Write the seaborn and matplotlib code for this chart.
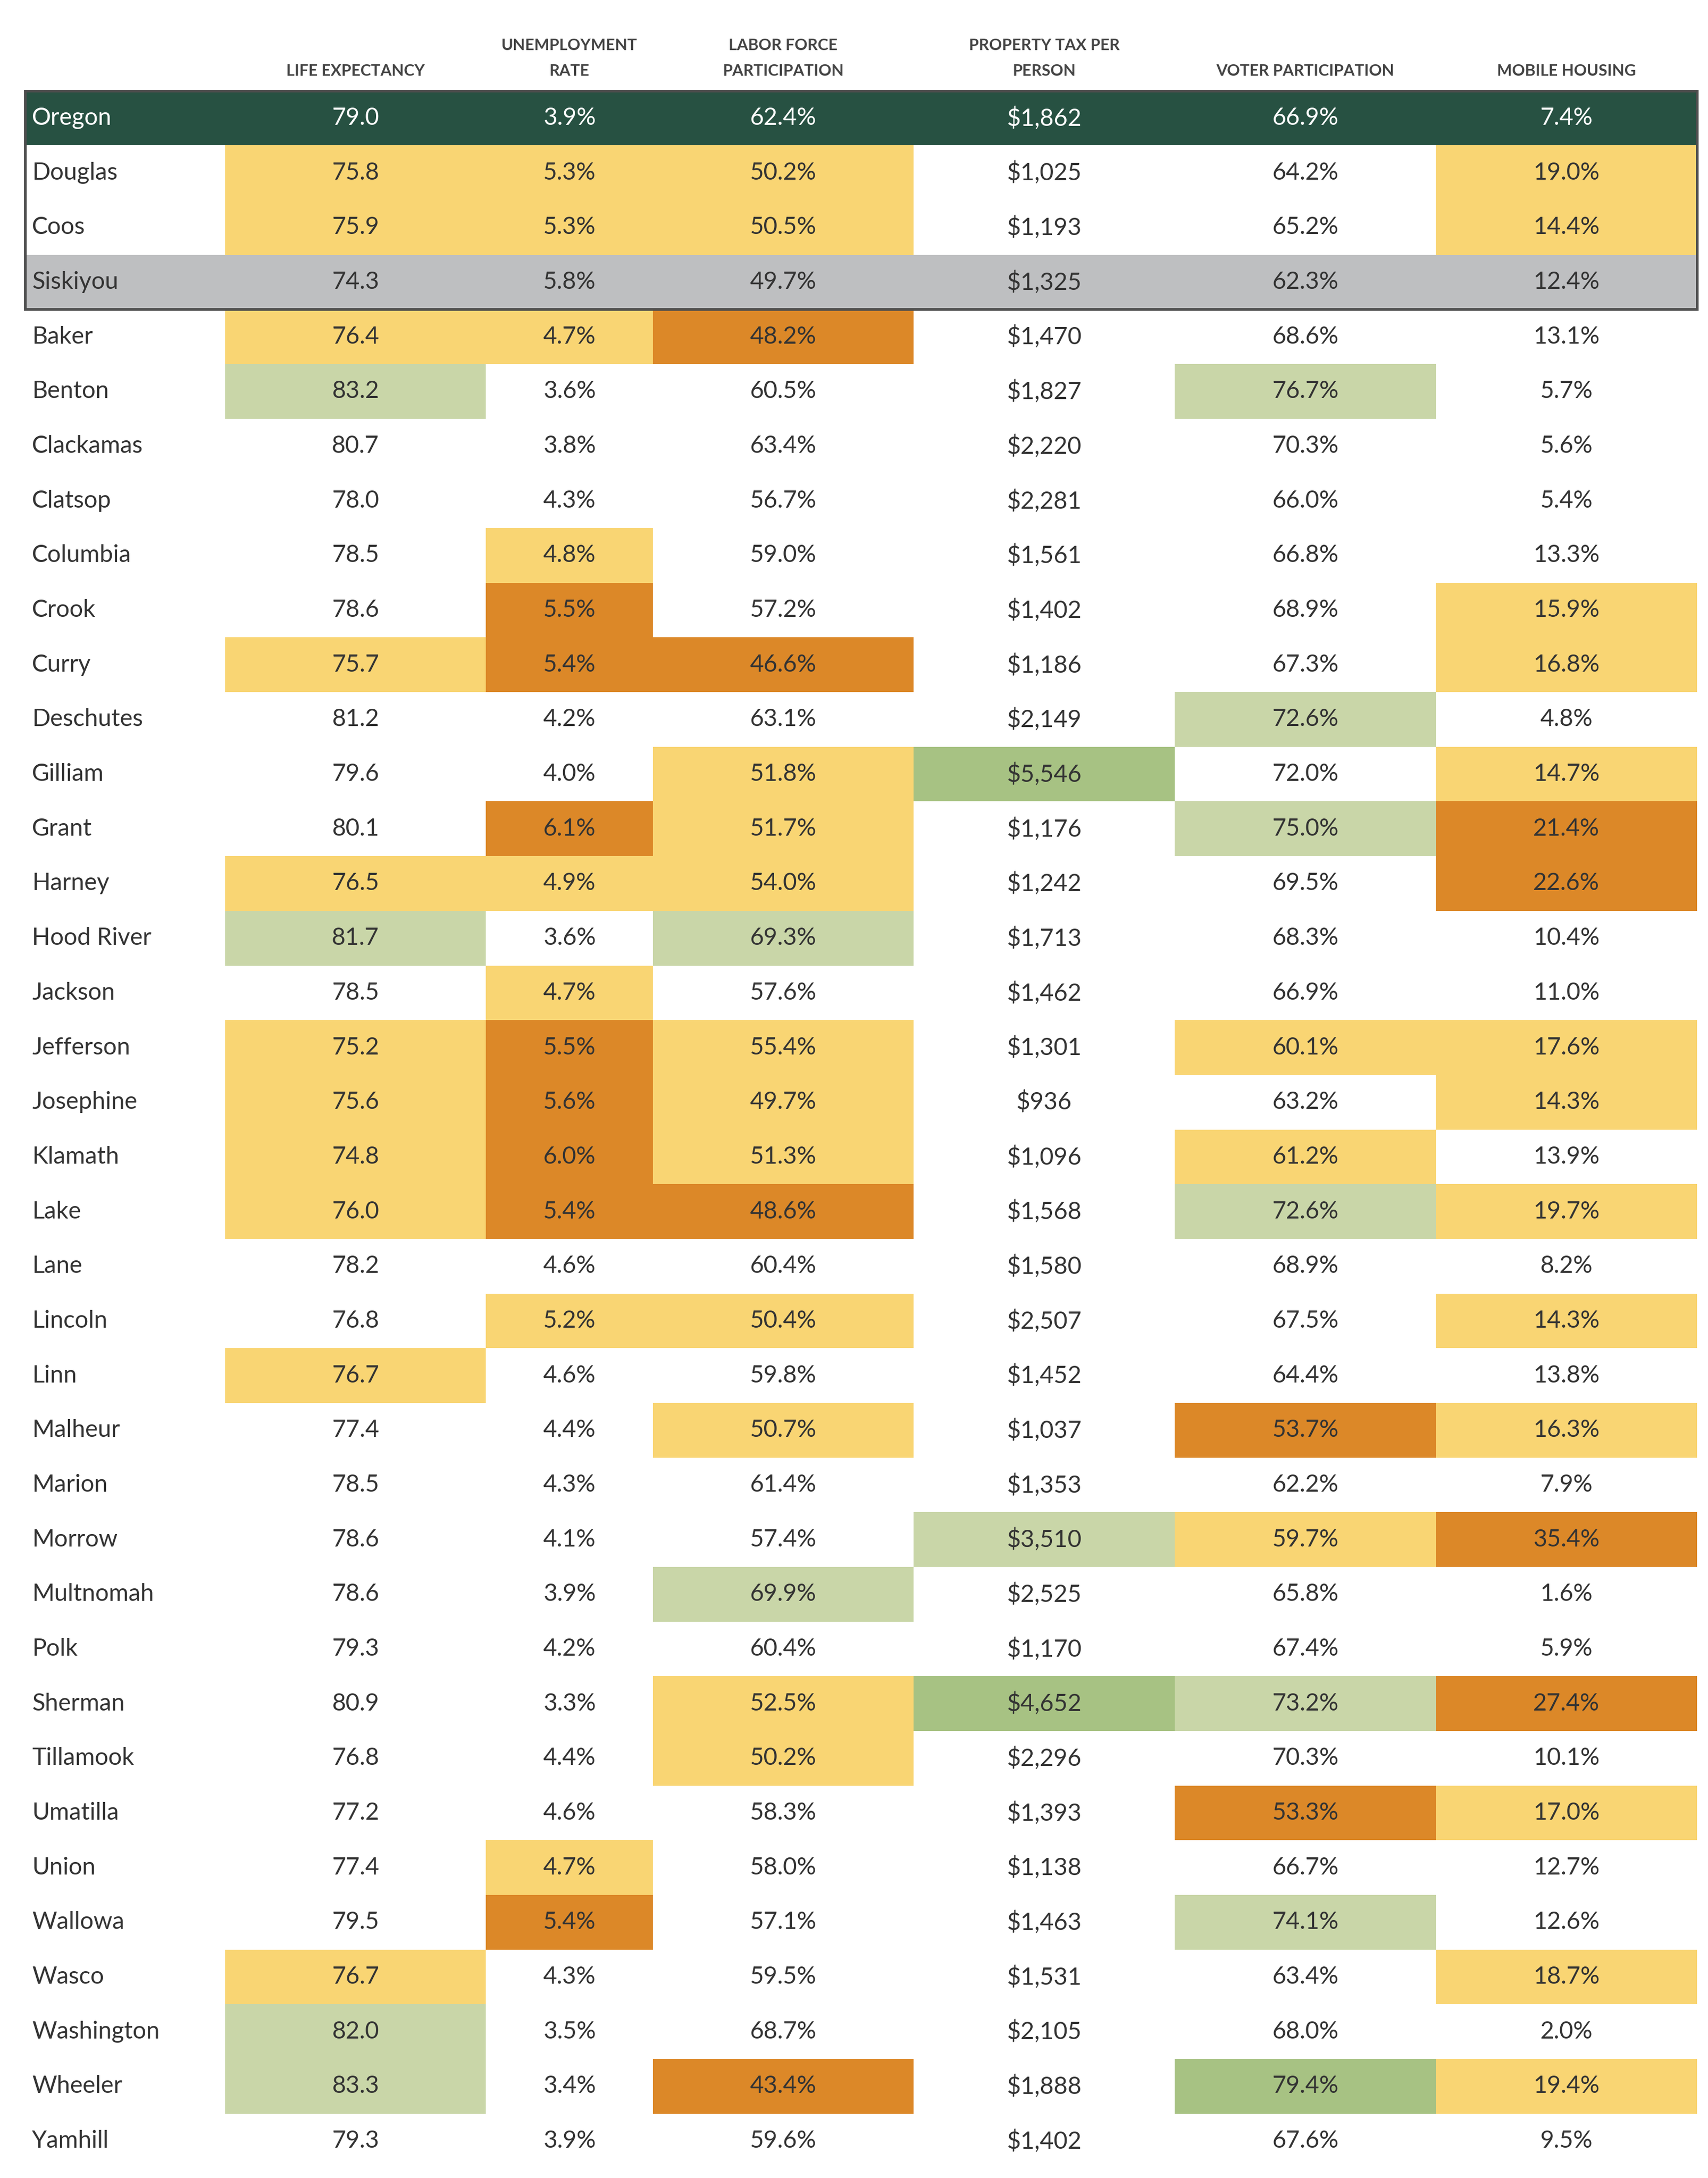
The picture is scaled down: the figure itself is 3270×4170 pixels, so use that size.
import matplotlib
matplotlib.use("Agg")
import matplotlib.pyplot as plt
import seaborn as sns
import numpy as np
from matplotlib.colors import ListedColormap
from matplotlib.patches import Rectangle

sns.set_theme(style="white")
plt.rcParams['font.family'] = ['Lato', 'DejaVu Sans']

headers = ["LIFE EXPECTANCY", "UNEMPLOYMENT\nRATE", "LABOR FORCE\nPARTICIPATION",
           "PROPERTY TAX PER\nPERSON", "VOTER PARTICIPATION", "MOBILE HOUSING"]
counties = ["Oregon", "Douglas", "Coos", "Siskiyou", "Baker", "Benton", "Clackamas", "Clatsop",
            "Columbia", "Crook", "Curry", "Deschutes", "Gilliam", "Grant", "Harney", "Hood River",
            "Jackson", "Jefferson", "Josephine", "Klamath", "Lake", "Lane", "Lincoln", "Linn",
            "Malheur", "Marion", "Morrow", "Multnomah", "Polk", "Sherman", "Tillamook", "Umatilla",
            "Union", "Wallowa", "Wasco", "Washington", "Wheeler", "Yamhill"]
life = [79.0, 75.8, 75.9, 74.3, 76.4, 83.2, 80.7, 78.0, 78.5, 78.6, 75.7, 81.2, 79.6, 80.1, 76.5, 81.7,
        78.5, 75.2, 75.6, 74.8, 76.0, 78.2, 76.8, 76.7, 77.4, 78.5, 78.6, 78.6, 79.3, 80.9, 76.8, 77.2,
        77.4, 79.5, 76.7, 82.0, 83.3, 79.3]
unemp = [3.9, 5.3, 5.3, 5.8, 4.7, 3.6, 3.8, 4.3, 4.8, 5.5, 5.4, 4.2, 4.0, 6.1, 4.9, 3.6,
         4.7, 5.5, 5.6, 6.0, 5.4, 4.6, 5.2, 4.6, 4.4, 4.3, 4.1, 3.9, 4.2, 3.3, 4.4, 4.6,
         4.7, 5.4, 4.3, 3.5, 3.4, 3.9]
labor = [62.4, 50.2, 50.5, 49.7, 48.2, 60.5, 63.4, 56.7, 59.0, 57.2, 46.6, 63.1, 51.8, 51.7, 54.0, 69.3,
         57.6, 55.4, 49.7, 51.3, 48.6, 60.4, 50.4, 59.8, 50.7, 61.4, 57.4, 69.9, 60.4, 52.5, 50.2, 58.3,
         58.0, 57.1, 59.5, 68.7, 43.4, 59.6]
proptax = [1862, 1025, 1193, 1325, 1470, 1827, 2220, 2281, 1561, 1402, 1186, 2149, 5546, 1176, 1242, 1713,
           1462, 1301, 936, 1096, 1568, 1580, 2507, 1452, 1037, 1353, 3510, 2525, 1170, 4652, 2296, 1393,
           1138, 1463, 1531, 2105, 1888, 1402]
voter = [66.9, 64.2, 65.2, 62.3, 68.6, 76.7, 70.3, 66.0, 66.8, 68.9, 67.3, 72.6, 72.0, 75.0, 69.5, 68.3,
         66.9, 60.1, 63.2, 61.2, 72.6, 68.9, 67.5, 64.4, 53.7, 62.2, 59.7, 65.8, 67.4, 73.2, 70.3, 53.3,
         66.7, 74.1, 63.4, 68.0, 79.4, 67.6]
mobile = [7.4, 19.0, 14.4, 12.4, 13.1, 5.7, 5.6, 5.4, 13.3, 15.9, 16.8, 4.8, 14.7, 21.4, 22.6, 10.4,
          11.0, 17.6, 14.3, 13.9, 19.7, 8.2, 14.3, 13.8, 16.3, 7.9, 35.4, 1.6, 5.9, 27.4, 10.1, 17.0,
          12.7, 12.6, 18.7, 2.0, 19.4, 9.5]
# highlight class: 0 none, 1 yellow, 2 orange, 3 light green, 4 green (Oregon/Siskiyou rows special)
highlight = [
    [5,5,5,5,5,5],[1,1,1,0,0,1],[1,1,1,0,0,1],[6,6,6,6,6,6],
    [1,1,2,0,0,0],[3,0,0,0,3,0],[0,0,0,0,0,0],[0,0,0,0,0,0],[0,1,0,0,0,0],[0,2,0,0,0,1],
    [1,2,2,0,0,1],[0,0,0,0,3,0],[0,0,1,4,0,1],[0,2,1,0,3,2],[1,1,1,0,0,2],[3,0,3,0,0,0],
    [0,1,0,0,0,0],[1,2,1,0,1,1],[1,2,1,0,0,1],[1,2,1,0,1,0],[1,2,2,0,3,1],[0,0,0,0,0,0],
    [0,1,1,0,0,1],[1,0,0,0,0,0],[0,0,1,0,2,1],[0,0,0,0,0,0],[0,0,0,3,1,2],[0,0,3,0,0,0],
    [0,0,0,0,0,0],[0,0,1,4,3,2],[0,0,1,0,0,0],[0,0,0,0,2,1],[0,1,0,0,0,0],[0,2,0,0,3,0],
    [1,0,0,0,0,1],[3,0,0,0,0,0],[3,0,2,0,4,1],[0,0,0,0,0,0]]

palette = ["#FFFFFF", "#F9D573", "#DC8828", "#C9D6A8", "#A7C283", "#275142", "#BEBFC1"]
cmap = ListedColormap(palette)

cols_text = [
    [f"{v:.1f}" for v in life],
    [f"{v:.1f}%" for v in unemp],
    [f"{v:.1f}%" for v in labor],
    [f"${v:,}" for v in proptax],
    [f"{v:.1f}%" for v in voter],
    [f"{v:.1f}%" for v in mobile],
]

W, H = 1230.0, 1560.0
fig = plt.figure(figsize=(32.7, 41.7), dpi=100)
bounds = [18, 162, 350, 470, 658, 846, 1034, 1222]
ytop, ybot = 65, 1553
n = len(counties)
hl = np.array(highlight)
name_codes = np.zeros((n, 1), dtype=int)
name_codes[0, 0] = 5
name_codes[3, 0] = 6

def mkax(x0, x1):
    return fig.add_axes([x0 / W, 1 - ybot / H, (x1 - x0) / W, (ybot - ytop) / H])

txtc = "#333333"
ax = mkax(bounds[0], bounds[1])
sns.heatmap(name_codes, ax=ax, cmap=cmap, vmin=-0.5, vmax=6.5, cbar=False,
            xticklabels=False, yticklabels=False)
for i, c in enumerate(counties):
    ax.text(0.035, i + 0.5, c, ha="left", va="center", fontsize=33,
            color="white" if i == 0 else txtc, transform=ax.get_yaxis_transform())
for j in range(6):
    ax = mkax(bounds[j + 1], bounds[j + 2])
    sns.heatmap(hl[:, j:j + 1], ax=ax, cmap=cmap, vmin=-0.5, vmax=6.5, cbar=False,
                xticklabels=False, yticklabels=False)
    for i, t in enumerate(cols_text[j]):
        ax.text(0.5, i + 0.5, t, ha="center", va="center", fontsize=33,
                color="white" if i == 0 else txtc)
    xc = (bounds[j + 1] + bounds[j + 2]) / 2 / W
    fig.text(xc, 1 - 56 / H, headers[j], ha="center", va="bottom", fontsize=22,
             fontweight="bold", color="#444444", linespacing=1.9)

# border box around Oregon..Siskiyou
rh = (ybot - ytop) / n
fig.patches.append(Rectangle((bounds[0] / W, 1 - (ytop + 4 * rh) / H), (bounds[-1] - bounds[0]) / W,
                             4 * rh / H, transform=fig.transFigure, fill=False,
                             edgecolor="#4d4d4d", linewidth=3.6, zorder=10))

fig.savefig("out.png", dpi=100, facecolor="white")
